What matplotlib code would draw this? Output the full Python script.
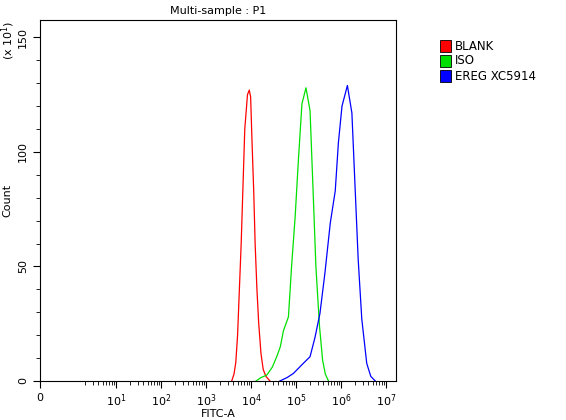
import matplotlib.pyplot as plt
import numpy as np
from matplotlib.patches import Rectangle

# log10(FITC-A) positions and counts (x10)
blank_x = [3.57, 3.62, 3.66, 3.70, 3.74, 3.78, 3.82, 3.86, 3.92, 3.96, 3.99, 4.02, 4.06, 4.09, 4.13, 4.17, 4.22, 4.27, 4.33, 4.42]
blank_y = [0, 3, 8, 20, 40, 60, 85, 110, 125, 127, 124, 105, 82, 60, 40, 25, 12, 5, 2, 0]
iso_x = [4.11, 4.22, 4.35, 4.47, 4.57, 4.65, 4.72, 4.83, 4.90, 4.98, 5.05, 5.13, 5.22, 5.31, 5.38, 5.44, 5.52, 5.59, 5.65, 5.72]
iso_y = [0, 1.5, 2.6, 6, 10.6, 15, 22, 28, 50, 72, 96, 121, 128, 118, 82, 50, 24, 9, 3, 0]
ereg_x = [4.64, 4.80, 4.94, 5.05, 5.16, 5.31, 5.42, 5.53, 5.64, 5.76, 5.87, 5.94, 6.02, 6.14, 6.24, 6.31, 6.38, 6.46, 6.57, 6.66, 6.76]
ereg_y = [0, 1.5, 3.3, 5.5, 7.7, 10.6, 19, 29.5, 47, 69, 83, 104, 120, 129, 117, 85, 53, 27, 7.7, 2, 0]

names = ["BLANK", "ISO", "EREG XC5914"]
colors = ["#ff0000", "#00e000", "#0000ff"]

fig = plt.figure(figsize=(5.66, 4.2), dpi=100)
ax = fig.add_axes([40/566, 39/420, 356/566, 361/420])

for xs, ys, c in zip([blank_x, iso_x, ereg_x], [blank_y, iso_y, ereg_y], colors):
    ax.plot(10 ** np.array(xs), ys, color=c, lw=0.9)

ax.set_xscale("log")
ax.set_xlim(10 ** -0.69, 10 ** 7.22)
ax.set_ylim(0, 157.6)

major = [10 ** -0.69] + [10 ** k for k in range(1, 8)]
ax.set_xticks(major)
ax.set_xticklabels(["0"] + ["$10^{%d}$" % k for k in range(1, 8)])
minor = [m * 10 ** k for k in range(0, 7) for m in range(2, 10)]
ax.set_xticks(minor, minor=True)
ax.set_yticks([0, 50, 100, 150])
ax.set_yticks(range(0, 151, 10), minor=True)
ax.tick_params(direction="out", labelsize=8, length=5)
ax.tick_params(which="minor", length=3)
for lab in ax.get_yticklabels():
    lab.set_rotation(90)
    lab.set_va("center")

ax.set_xlabel("FITC-A", fontsize=8, labelpad=0)
ax.set_ylabel("Count", fontsize=8)
ax.set_title("Multi-sample : P1", fontsize=8, pad=4)
fig.text(8/566, 1 - 40/420, "(x 10$^1$)", rotation=90, fontsize=8, va="center", ha="center")

for i, (n, c) in enumerate(zip(names, colors)):
    y = 1 - (46 + i * 15) / 420
    fig.patches.append(Rectangle((440/566, y - 6/420), 11/566, 12/420, transform=fig.transFigure,
                                 facecolor=c, edgecolor="black", lw=0.6))
    fig.text(455/566, y, n, fontsize=8.5, va="center")

fig.savefig("out.png", dpi=100)
